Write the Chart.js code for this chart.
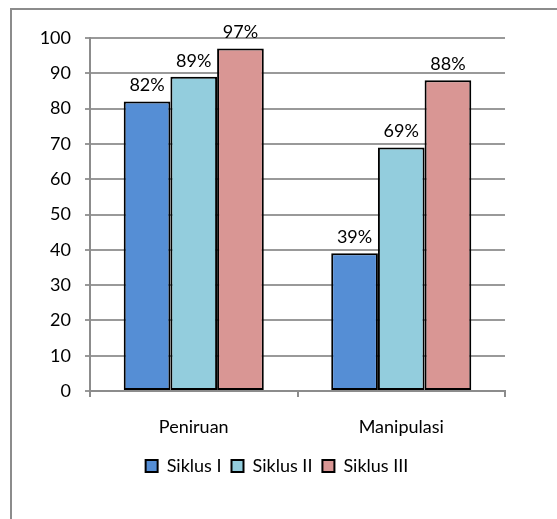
<!DOCTYPE html>
<html lang="id">
<head>
<meta charset="UTF-8" />
<title>Siklus</title>
<style>
   html, body { margin: 0; padding: 0; background: #fff; }
   #box {
      position: absolute; left: 0; top: 0; width: 557px; height: 519px;
   }
   #frame {
      position: absolute; left: 10px; top: 8px; width: 547px; height: 511px;
      border-top: 2px solid #8c8c8c; border-left: 2px solid #8c8c8c;
      box-sizing: border-box;
   }
</style>
</head>
<body>
<div id="box">
   <div id="frame"></div>
   <canvas id="grafik" width="557" height="519"></canvas>
</div>
<script src="https://cdn.jsdelivr.net/npm/chart.js"></script>
<script>
   // data
   const kategori = ["Peniruan", "Manipulasi"];
   const siklus_1 = [82, 39];
   const siklus_2 = [89, 69];
   const siklus_3 = [97, 88];
   const label_seri = ["Siklus I", "Siklus II", "Siklus III"];
   const tick_y = [0, 10, 20, 30, 40, 50, 60, 70, 80, 90, 100];

   const huruf = "Lato, 'Open Sans', sans-serif";
   const ukuran = 18;

   // label persen di atas batang
   const label_atas = {
      id: "label_atas",
      afterDatasetsDraw(chart) {
         const ctx = chart.ctx;
         ctx.save();
         ctx.font = ukuran + "px " + huruf;
         ctx.fillStyle = "#000";
         ctx.textAlign = "center";
         ctx.textBaseline = "bottom";
         chart.data.datasets.forEach((ds, i) => {
            chart.getDatasetMeta(i).data.forEach((bar, j) => {
               ctx.fillText(ds.data[j] + "%", bar.x, bar.y - 7);
            });
         });
         ctx.restore();
      }
   };

   const data_batang = {
      labels: kategori,
      datasets: [
         { label: label_seri[0], data: siklus_1, backgroundColor: "#558ed5" },
         { label: label_seri[1], data: siklus_2, backgroundColor: "#93cddd" },
         { label: label_seri[2], data: siklus_3, backgroundColor: "#d99694" },
      ],
   };

   const grafik = new Chart(document.getElementById("grafik"), {
      type: "bar",
      data: data_batang,
      plugins: [label_atas],
      options: {
         responsive: false,
         animation: false,
         devicePixelRatio: 1,
         datasets: {
            bar: {
               borderColor: "#000",
               borderWidth: 2,
               borderSkipped: false,
               barPercentage: 1,
               categoryPercentage: 0.675,
            }
         },
         layout: { padding: { top: 38, right: 15, left: 12, bottom: 34 } },
         plugins: {
            tooltip: { enabled: false },
            legend: {
               position: "bottom",
               labels: {
                  font: { family: huruf, size: ukuran },
                  color: "#000",
                  boxWidth: 12,
                  boxHeight: 12,
                  padding: 10,
               }
            }
         },
         scales: {
            x: {
               afterFit(scale) { scale.height = 56; },
               grid: {
                  offset: true,
                  drawOnChartArea: false,
                  drawTicks: true,
                  tickLength: 6,
                  color: "#8c8c8c",
                  lineWidth: 2,
               },
               border: { color: "#8c8c8c", width: 2 },
               ticks: {
                  font: { family: huruf, size: ukuran },
                  color: "#000",
                  padding: 19,
               }
            },
            y: {
               min: 0,
               max: 100,
               afterFit(scale) { scale.width = 78; },
               afterBuildTicks(scale) { scale.ticks = tick_y.map(v => ({ value: v })); },
               grid: {
                  color: "#999",
                  lineWidth: 2,
                  tickLength: 5,
               },
               border: { color: "#8c8c8c", width: 2 },
               ticks: {
                  font: { family: huruf, size: ukuran },
                  color: "#000",
                  padding: 14,
               }
            },
            // ruang kosong di kanan supaya legenda tetap di tengah
            kanan: {
               position: "right",
               afterFit(scale) { scale.width = 37; },
               grid: { display: false },
               border: { display: false },
               ticks: { display: false },
            }
         }
      }
   });
</script>
</body>
</html>
